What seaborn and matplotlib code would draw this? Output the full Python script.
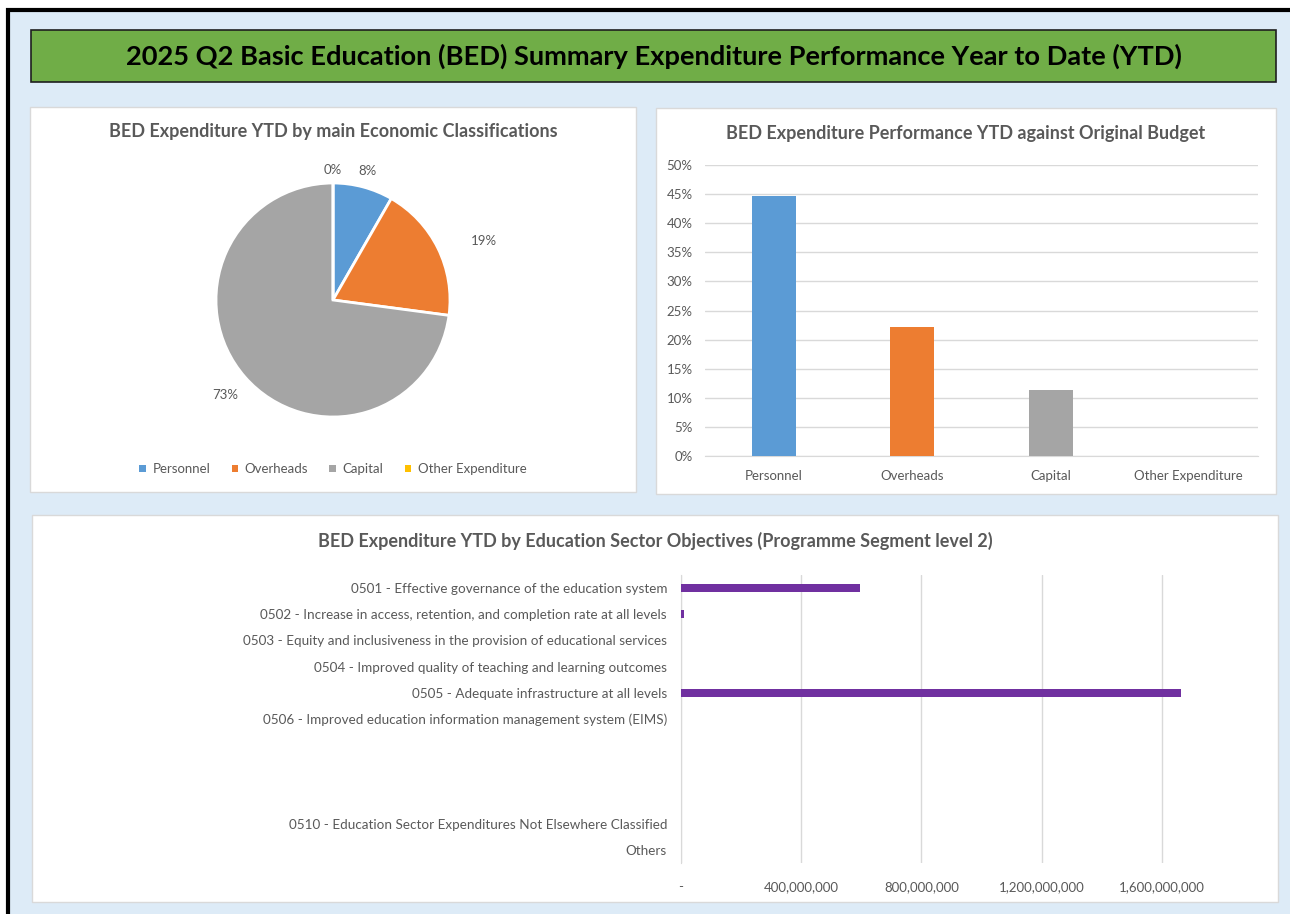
import seaborn as sns
import matplotlib.pyplot as plt
import numpy as np
from matplotlib.patches import Rectangle, Patch
from matplotlib.ticker import PercentFormatter

# data
econ_classes = ["Personnel", "Overheads", "Capital", "Other Expenditure"]
econ_share = [8.3, 18.8, 72.9, 0.0]          # pie, % of YTD spend
budget_perf = [0.447, 0.222, 0.113, 0.0]     # YTD spend vs original budget
econ_colors = ["#5B9BD5", "#ED7D31", "#A5A5A5", "#FFC000"]

objectives = [
    "0501 - Effective governance of the education system",
    "0502 - Increase in access, retention, and completion rate at all levels",
    "0503 - Equity and inclusiveness in the provision of educational services",
    "0504 - Improved quality of teaching and learning outcomes",
    "0505 - Adequate infrastructure at all levels",
    "0506 - Improved education information management system (EIMS)",
    " ",
    "  ",
    "   ",
    "0510 - Education Sector Expenditures Not Elsewhere Classified",
    "Others",
]
objective_spend = [597e6, 9e6, 0, 0, 1665e6, 0, 0, 0, 0, 0, 0]
spend_ticks = [0, 400e6, 800e6, 1200e6, 1600e6]
spend_tick_labels = ["-", "400,000,000", "800,000,000", "1,200,000,000", "1,600,000,000"]

main_title = "2025 Q2 Basic Education (BED) Summary Expenditure Performance Year to Date (YTD)"

sns.set_style("white")
plt.rcParams["font.family"] = ["Lato", "DejaVu Sans"]
TXT = "#595959"
GRID = "#D9D9D9"

W, H = 1290, 914
fig = plt.figure(figsize=(W / 100, H / 100), dpi=100)
fig.patch.set_facecolor("white")


def box(x0, y0, x1, y1):
    return [x0 / W, 1 - y1 / H, (x1 - x0) / W, (y1 - y0) / H]


def rect(x0, y0, x1, y1, z, **kw):
    fig.patches.append(Rectangle((x0 / W, 1 - y1 / H), (x1 - x0) / W, (y1 - y0) / H,
                                 transform=fig.transFigure, figure=fig, zorder=z, **kw))


# background frame and panels (behind the axes)
rect(8, 10, 1300, 930, -3, facecolor="#DDEBF7", edgecolor="black", linewidth=3)
rect(31, 30, 1276, 82, -2, facecolor="#70AD47", edgecolor="#1F1F1F", linewidth=1.2)
rect(30, 107, 636, 492, -2, facecolor="white", edgecolor=GRID, linewidth=1)
rect(656, 108, 1276, 494, -2, facecolor="white", edgecolor=GRID, linewidth=1)
rect(32, 515, 1278, 902, -2, facecolor="white", edgecolor=GRID, linewidth=1)

fig.text(654 / W, 1 - 56 / H, main_title, ha="center", va="center",
         fontsize=19.6, fontweight="bold", color="black")

# pie
ax1 = fig.add_axes(box(157.5, 124.5, 508.5, 475.5))
ax1.patch.set_visible(False)
wedges, _, autotexts = ax1.pie(
    econ_share, colors=econ_colors, startangle=90, counterclock=False,
    autopct="%.0f%%", pctdistance=1.17,
    wedgeprops=dict(edgecolor="white", linewidth=2),
    textprops=dict(color=TXT, fontsize=9.5),
)
# Excel-style label placement: a little further out for the wider slices
label_dist = [1.14, 1.38, 1.23, 1.11]
label_shift = [0, -5, 0, 0]  # degrees
for w, t, d, s in zip(wedges, autotexts, label_dist, label_shift):
    ang = np.deg2rad((w.theta1 + w.theta2) / 2 + s)
    t.set_position((d * np.cos(ang), d * np.sin(ang)))
ax1.set_xlim(-1.5, 1.5)
ax1.set_ylim(-1.5, 1.5)
ax1.set_aspect("equal")
ax1.axis("off")
fig.text(333 / W, 1 - 132 / H, "BED Expenditure YTD by main Economic Classifications",
         ha="center", va="center", fontsize=13, fontweight="bold", color=TXT)
handles = [Patch(facecolor=c, edgecolor="none") for c in econ_colors]
fig.legend(handles, econ_classes, loc="center", bbox_to_anchor=(333 / W, 1 - 469 / H),
           ncol=4, frameon=False, handlelength=0.5, handleheight=0.5,
           handletextpad=0.5, columnspacing=1.6, fontsize=9.5, labelcolor=TXT)

# budget performance bars
ax2 = fig.add_axes(box(705, 165, 1258, 456))
ax2.patch.set_visible(False)
sns.barplot(x=econ_classes, y=budget_perf, hue=econ_classes, palette=econ_colors,
            width=0.32, saturation=1, linewidth=0, legend=False, ax=ax2, zorder=3)
ax2.set_ylim(0, 0.5)
ax2.set_xlim(-0.5, 3.5)
ax2.set_yticks(np.arange(0, 0.51, 0.05))
ax2.yaxis.set_major_formatter(PercentFormatter(1, decimals=0))
ax2.grid(axis="y", color=GRID, linewidth=1, zorder=0)
ax2.set_axisbelow(True)
for s in ["top", "right", "left"]:
    ax2.spines[s].set_visible(False)
ax2.spines["bottom"].set_color(GRID)
ax2.tick_params(length=0, colors=TXT, labelsize=9.5)
ax2.tick_params(axis="x", pad=10)
ax2.tick_params(axis="y", pad=9)
ax2.set_xlabel("")
ax2.set_ylabel("")
fig.text(966 / W, 1 - 134 / H, "BED Expenditure Performance YTD against Original Budget",
         ha="center", va="center", fontsize=13, fontweight="bold", color=TXT)

# objectives bars
ax3 = fig.add_axes(box(681, 575, 1270, 863))
ax3.patch.set_visible(False)
sns.barplot(x=objective_spend, y=objectives, orient="h", color="#7030A0",
            width=0.32, saturation=1, linewidth=0, ax=ax3, zorder=3)
ax3.set_xlim(0, 1.96e9)
ax3.set_ylim(len(objectives) - 0.5, -0.5)
ax3.set_xticks(spend_ticks)
ax3.set_xticklabels(spend_tick_labels)
ax3.grid(axis="x", color=GRID, linewidth=1, zorder=0)
ax3.set_axisbelow(True)
for s in ["top", "right", "bottom"]:
    ax3.spines[s].set_visible(False)
ax3.spines["left"].set_color(GRID)
ax3.tick_params(length=0, colors=TXT, labelsize=9.5)
ax3.tick_params(axis="y", pad=10, labelsize=9.7)
ax3.tick_params(axis="x", pad=13)
ax3.set_xlabel("")
ax3.set_ylabel("")
fig.text(655 / W, 1 - 541 / H,
         "BED Expenditure YTD by Education Sector Objectives (Programme Segment level 2)",
         ha="center", va="center", fontsize=13, fontweight="bold", color=TXT)

fig.savefig("out.png", dpi=100, facecolor=fig.get_facecolor())
